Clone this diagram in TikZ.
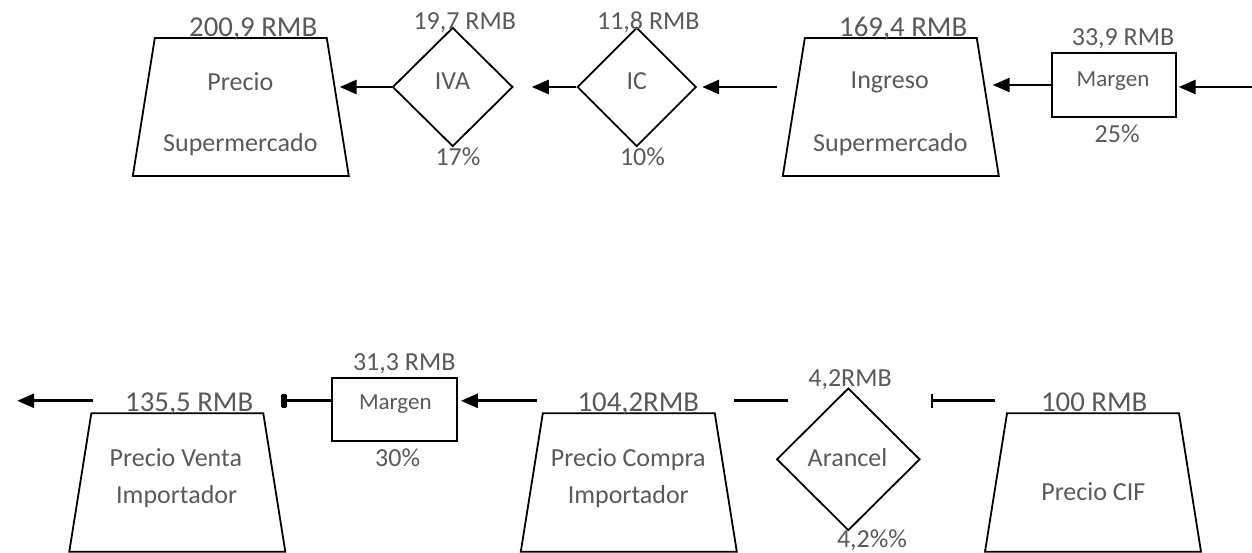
\documentclass[tikz,border=0pt]{standalone}
\usepackage{fontspec}
\setmainfont{Carlito}
\usetikzlibrary{shapes.geometric,arrows.meta,calc}
\definecolor{txtgray}{HTML}{595959}
\begin{document}
\begin{tikzpicture}[x=1pt,y=-1pt,
  trap/.style={trapezium, draw, line width=1.8pt, trapezium stretches=true,
    trapezium left angle=82.7, trapezium right angle=82.7,
    minimum width=216pt, minimum height=138pt, inner sep=2pt},
  dia/.style={diamond, draw, line width=1.8pt, inner sep=1pt},
  mbox/.style={rectangle, draw, line width=1.8pt, inner sep=0pt,
    minimum width=124pt, minimum height=63.4pt},
  big/.style={text=txtgray, font=\fontsize{28.8}{34}\selectfont, anchor=base, inner sep=0pt},
  lbl/.style={text=txtgray, font=\fontsize{26}{31}\selectfont, anchor=base, inner sep=0pt},
  sml/.style={text=txtgray, font=\fontsize{23}{28}\selectfont, anchor=base, inner sep=0pt},
  arr/.style={line width=2.8pt, -{Triangle[length=17pt,width=14pt]}},
  arrblk/.style={line width=2.8pt, -{Rectangle[length=6pt,width=14pt,round]}},
  plain/.style={line width=2.8pt},
  tee/.style={line width=2.8pt, -{Bar[width=14pt,line width=2.4pt]}}
]
\useasboundingbox (0,0) rectangle (1252,553);

% ---------- upper chain: supermarket ----------
\node[trap] (t1) at (240.8,107) {};
\node[big] (t1v) at (253.2,36.5) {200,9 RMB};
\node[lbl] (t1a) at (240.3,91) {Precio};
\node[lbl] (t1b) at (240.3,151.5) {Supermercado};

\node[dia, minimum width=120.3pt, minimum height=119pt] (iva) at (452.7,87) {};
\node[lbl] (ivav) at (464.7,30) {19,7 RMB};
\node[lbl] (ivat) at (452.5,90) {IVA};
\node[lbl] (ivap) at (458,165.7) {17\%};

\node[dia, minimum width=119pt, minimum height=119pt] (ic) at (636.7,87) {};
\node[lbl] (icv) at (648.3,30) {11,8 RMB};
\node[lbl] (ict) at (636.7,90) {IC};
\node[lbl] (icp) at (642.5,165.7) {10\%};

\node[trap] (t2) at (890.8,107) {};
\node[big] (t2v) at (903.2,36.5) {169,4 RMB};
\node[lbl] (t2a) at (889.7,89) {Ingreso};
\node[lbl] (t2b) at (890.3,151.5) {Supermercado};

\node[mbox] (m1) at (1113.7,85) {};
\node[lbl] (m1v) at (1123,46) {33,9 RMB};
\node[sml] (m1t) at (1113,86.5) {Margen};
\node[lbl] (m1p) at (1117.2,142.7) {25\%};

\coordinate (inR) at (1252,87);

\draw[arr] (inR) -- ($(m1.east)+(2,2)$);
\draw[arr] (m1.west) -- ($(m1.west -| t2.east)+(4,0)$);
\draw[arr] ($(t2.west |- ic.east)+(-16,0)$) -- ($(ic.east)+(5,0)$);
\draw[arr] (ic.west) -- ($(iva.east)+(18,0)$);
\draw[arr] (iva.west) -- ($(iva.west -| t1.east)+(1,0)$);

% ---------- lower chain: importer ----------
\node[trap, minimum height=138.4pt] (t3) at (177.3,482.5) {};
\node[big] (t3v) at (189.2,411.7) {135,5 RMB};
\node[lbl] (t3a) at (175.8,466.7) {Precio Venta};
\node[lbl] (t3b) at (176.7,503.3) {Importador};

\node[mbox, minimum width=124.4pt, minimum height=63.3pt] (m2) at (394.5,409.4) {};
\node[lbl] (m2v) at (404.2,370.7) {31,3 RMB};
\node[sml] (m2t) at (395.3,409.8) {Margen};
\node[lbl] (m2p) at (397.7,466.7) {30\%};

\node[trap, minimum height=138.4pt] (t4) at (628.8,482.5) {};
\node[big] (t4v) at (638.3,411.7) {104,2RMB};
\node[lbl] (t4a) at (628.3,466) {Precio Compra};
\node[lbl] (t4b) at (628.3,503) {Importador};

\node[dia, minimum width=143.3pt, minimum height=142.4pt] (ar) at (848.3,459.3) {};
\node[lbl] (arv) at (850,386.7) {4,2RMB};
\node[lbl] (art) at (847.5,466) {Arancel};
\node[lbl] (arp) at (872,547.5) {4,2\%\%};

\node[trap, minimum height=138.4pt] (t5) at (1093,482.5) {};
\node[big] (t5v) at (1094.2,411.7) {100 RMB};
\node[lbl] (t5t) at (1093.3,500) {Precio CIF};

\coordinate (outL) at ($(t3.top left corner)+(-73.4,-11.6)$);

% horizontal segments of the lower chain, all on one level
\draw[tee] ($(t5.top left corner)+(-11,-11.6)$) -- ($(t5.top left corner -| ar.east)+(10,-11.6)$);
\draw[plain] ($(t4.top right corner)+(18.7,-11.6)$) -- ($(t4.top right corner -| ar.west)+(12.3,-11.6)$);
\draw[arr] ($(t4.top left corner)+(-5.3,-11.6)$) -- ($(t4.top left corner -| m2.east)+(3.3,-11.6)$);
\draw[arrblk] ($(m2.west |- t3.top right corner)+(0,-11.6)$) -- ($(t3.top right corner)+(17.3,-11.6)$);
\draw[arr] ($(t3.top left corner)+(2.6,-11.6)$) -- (outL);
\end{tikzpicture}
\end{document}
